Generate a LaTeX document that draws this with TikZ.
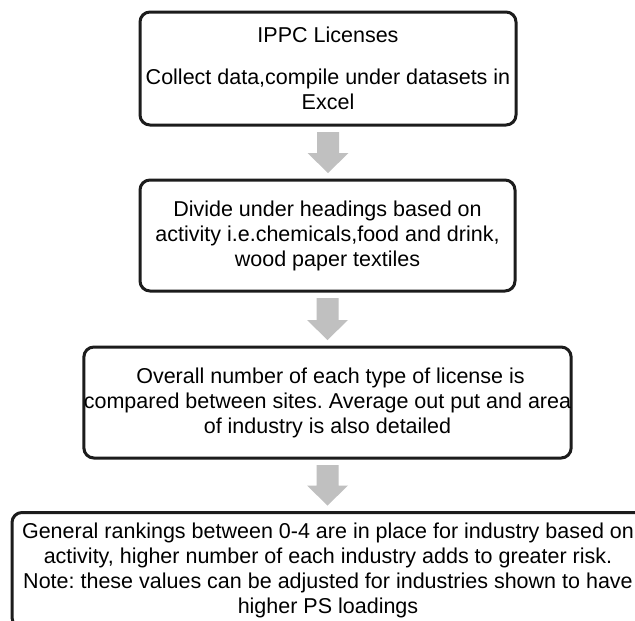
\documentclass[tikz,border=0pt]{standalone}
\usepackage{fontspec}
\setmainfont{Liberation Sans}
\usetikzlibrary{calc}
\definecolor{boxline}{HTML}{1C1C1C}
\definecolor{arrowgray}{HTML}{C0C0C0}
\tikzset{
  flowbox/.style={draw=boxline, line width=3pt, rounded corners=10pt, align=center,
    inner sep=0pt, outer sep=0pt, font=\fontsize{21.5}{25}\selectfont\frenchspacing, text=black},
  blockarrow/.style={fill=arrowgray, draw=none}
}
\newcommand{\myblockarrow}[2]{%
  \fill[blockarrow] ($(#1.south)+(-11,7)$) -- ($(#1.south)+(11,7)$)
    -- ($(#1.south |- #2.north)+(11,-27)$) -- ($(#1.south |- #2.north)+(20.5,-27)$)
    -- ($(#1.south |- #2.north)+(0,-7)$) -- ($(#1.south |- #2.north)+(-20.5,-27)$)
    -- ($(#1.south |- #2.north)+(-11,-27)$) -- cycle;}
\begin{document}
\begin{tikzpicture}[x=1pt, y=-1pt]
\useasboundingbox (0,0) rectangle (635,621);
\clip (0,0) rectangle (635,621);
\fill[white] (0,0) rectangle (635,621);
\node[flowbox, minimum width=376pt, minimum height=113pt] (b1) at (328,68.5)
  {IPPC Licenses\\[17pt]Collect data,compile under datasets in\\Excel};
\node[flowbox, minimum width=375pt, minimum height=111pt] (b2) at (327.5,235.5)
  {Divide under headings based on\\activity i.e.chemicals,food and drink,\\wood paper textiles};
\node[flowbox, minimum width=485pt, minimum height=111pt] (b3) at (327.5,402.5)
  {\ Overall number of each type of license is\\compared between sites. Average out put and area\\of industry is also detailed};
\node[flowbox, minimum width=632pt, minimum height=115pt] (b4) at (328,570)
  {General rankings between 0-4 are in place for industry based on\\activity, higher number of each industry adds to greater risk.\\Note: these values can be adjusted for industries shown to have\\higher PS loadings};
\myblockarrow{b1}{b2}
\myblockarrow{b2}{b3}
\myblockarrow{b3}{b4}
\end{tikzpicture}
\end{document}
